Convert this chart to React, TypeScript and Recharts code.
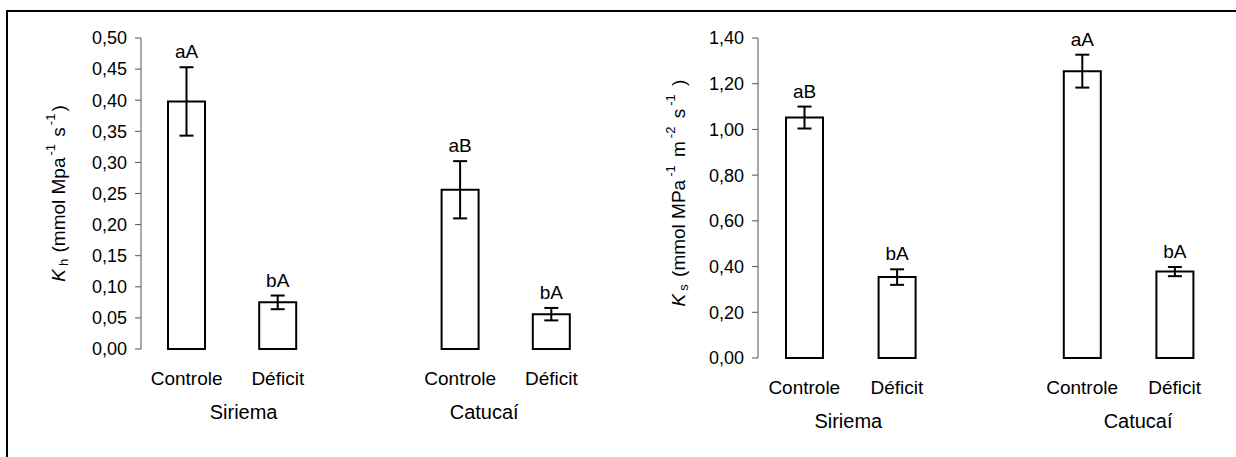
import React from "react";
import { BarChart, Bar, XAxis, YAxis, ErrorBar, Label } from "recharts";

const CATEGORIES = ["Controle", "Déficit", "", "Controle", "Déficit"];
const GROUPS = ["Siriema", "", "", "Catucaí", ""];

const KH_MEANS = [0.398, 0.075, null, 0.256, 0.056];
const KH_ERRORS = [0.055, 0.011, null, 0.046, 0.01];
const KH_LETTERS = ["aA", "bA", "", "aB", "bA"];
const KH_TICKS = [0, 0.05, 0.1, 0.15, 0.2, 0.25, 0.3, 0.35, 0.4, 0.45, 0.5];

const KS_MEANS = [1.052, 0.354, null, 1.255, 0.378];
const KS_ERRORS = [0.048, 0.034, null, 0.072, 0.02];
const KS_LETTERS = ["aB", "bA", "", "aA", "bA"];
const KS_TICKS = [0, 0.2, 0.4, 0.6, 0.8, 1.0, 1.2, 1.4];

const EDGE_TICKS = [0, 1, 2, 3, 4, 5];

const FONT = "'Liberation Sans', Arial, sans-serif";
const AXIS = "#555";

const fmt = (v: number) => v.toFixed(2).replace(".", ",");

function buildRows(means: (number | null)[], errors: (number | null)[], letters: string[]) {
  return CATEGORIES.map((cat, i) => ({
    key: `c${i}`,
    cat,
    group: GROUPS[i],
    mean: means[i],
    err: errors[i],
    letter: letters[i],
  }));
}

function CategoryTick(props: any) {
  const { x, y, payload, rows, groupShift } = props;
  const row = rows[payload.index];
  if (!row) return null;
  return (
    <g>
      <text x={x} y={y + 21} textAnchor="middle" dominantBaseline="central" fontSize={19} fill="#000" fontFamily={FONT}>
        {row.cat}
      </text>
      {row.group && (
        <text
          x={x + groupShift[payload.index === 0 ? 0 : 1]}
          y={y + 55}
          textAnchor="middle"
          dominantBaseline="central"
          fontSize={20}
          fill="#000"
          fontFamily={FONT}
        >
          {row.group}
        </text>
      )}
    </g>
  );
}

function LetterLabel(props: any) {
  const { x, y, width, height, value, rows } = props;
  const row = rows.find((r: any) => r.mean === value);
  if (!row || row.mean == null) return null;
  const perUnit = height / row.mean;
  const top = y - row.err * perUnit;
  return (
    <text x={x + width / 2} y={top - 9} textAnchor="middle" fontSize={19} fill="#000" fontFamily={FONT}>
      {row.letter}
    </text>
  );
}

function AxisTitle(props: any) {
  const { viewBox, dx, dy, parts } = props;
  const cx = viewBox.x + viewBox.width + dx;
  const cy = viewBox.y + viewBox.height / 2 + dy;
  return (
    <text
      x={cx}
      y={cy}
      transform={`rotate(-90, ${cx}, ${cy})`}
      textAnchor="middle"
      dominantBaseline="central"
      fontSize={19}
      fill="#000"
      fontFamily={FONT}
    >
      {parts}
    </text>
  );
}

function Panel(props: any) {
  const { left, width, rows, ticks, max, margin, title, titleDx, titleDy, groupShift } = props;
  return (
    <div style={{ position: "absolute", left, top: 0 }}>
      <BarChart width={width} height={457} data={rows} margin={margin}>
        <XAxis
          xAxisId="edges"
          type="number"
          domain={[0, 5]}
          ticks={EDGE_TICKS}
          tickFormatter={() => ""}
          height={0}
          stroke={AXIS}
          tickSize={6}
          allowDataOverflow
        />
        <XAxis
          dataKey="key"
          height={70}
          axisLine={false}
          tickLine={false}
          interval={0}
          tick={<CategoryTick rows={rows} groupShift={groupShift} />}
        />
        <YAxis
          domain={[0, max]}
          ticks={ticks}
          interval={0}
          width={60}
          stroke={AXIS}
          tickSize={6}
          tickMargin={8}
          tickFormatter={fmt}
          tick={{ fontSize: 18, fill: "#000", fontFamily: FONT }}
        >
          <Label content={<AxisTitle dx={titleDx} dy={titleDy} parts={title} />} />
        </YAxis>
        <Bar
          dataKey="mean"
          fill="#fff"
          stroke="#000"
          strokeWidth={2}
          barSize={37}
          isAnimationActive={false}
          label={<LetterLabel rows={rows} />}
        >
          <ErrorBar dataKey="err" width={7} stroke="#000" strokeWidth={2} direction="y" />
        </Bar>
      </BarChart>
    </div>
  );
}

const KH_TITLE = (
  <>
    <tspan fontStyle="italic">K</tspan>
    <tspan fontSize={13} dy={5} dx={3}>h</tspan>
    <tspan dy={-5} dx={1}> (mmol Mpa</tspan>
    <tspan fontSize={13} dy={-8} dx={2}>-1</tspan>
    <tspan dy={8} dx={2}> s</tspan>
    <tspan fontSize={13} dy={-8} dx={2}>-1</tspan>
    <tspan dy={8} dx={2}>)</tspan>
  </>
);

const KS_TITLE = (
  <>
    <tspan fontStyle="italic">K</tspan>
    <tspan fontSize={13} dy={5} dx={3}>s</tspan>
    <tspan dy={-5} dx={2}> (mmol MPa</tspan>
    <tspan fontSize={13} dy={-8} dx={3}>-1</tspan>
    <tspan dy={8} dx={3}> m</tspan>
    <tspan fontSize={13} dy={-8} dx={3}>-2</tspan>
    <tspan dy={8} dx={3}> s</tspan>
    <tspan fontSize={13} dy={-8} dx={3}>-1</tspan>
    <tspan dy={8} dx={3}> )</tspan>
  </>
);

export default function App() {
  const khRows = buildRows(KH_MEANS, KH_ERRORS, KH_LETTERS);
  const ksRows = buildRows(KS_MEANS, KS_ERRORS, KS_LETTERS);
  return (
    <div
      style={{
        position: "absolute",
        left: 0,
        top: 0,
        width: 1236,
        height: 457,
        overflow: "hidden",
        background: "#fff",
        fontFamily: FONT,
      }}
    >
      <div
        style={{
          position: "absolute",
          left: 6,
          top: 10,
          width: 1300,
          height: 500,
          border: "2px solid #000",
        }}
      />
      <Panel
        left={0}
        width={620}
        rows={khRows}
        ticks={KH_TICKS}
        max={0.5}
        margin={{ top: 38, right: 23, bottom: 38, left: 81 }}
        title={KH_TITLE}
        titleDx={-83}
        titleDy={0}
        groupShift={[57, 24]}
      />
      <Panel
        left={620}
        width={616}
        rows={ksRows}
        ticks={KS_TICKS}
        max={1.4}
        margin={{ top: 38, right: 15, bottom: 29, left: 78 }}
        title={KS_TITLE}
        titleDx={-80}
        titleDy={-5}
        groupShift={[44, 56]}
      />
    </div>
  );
}
